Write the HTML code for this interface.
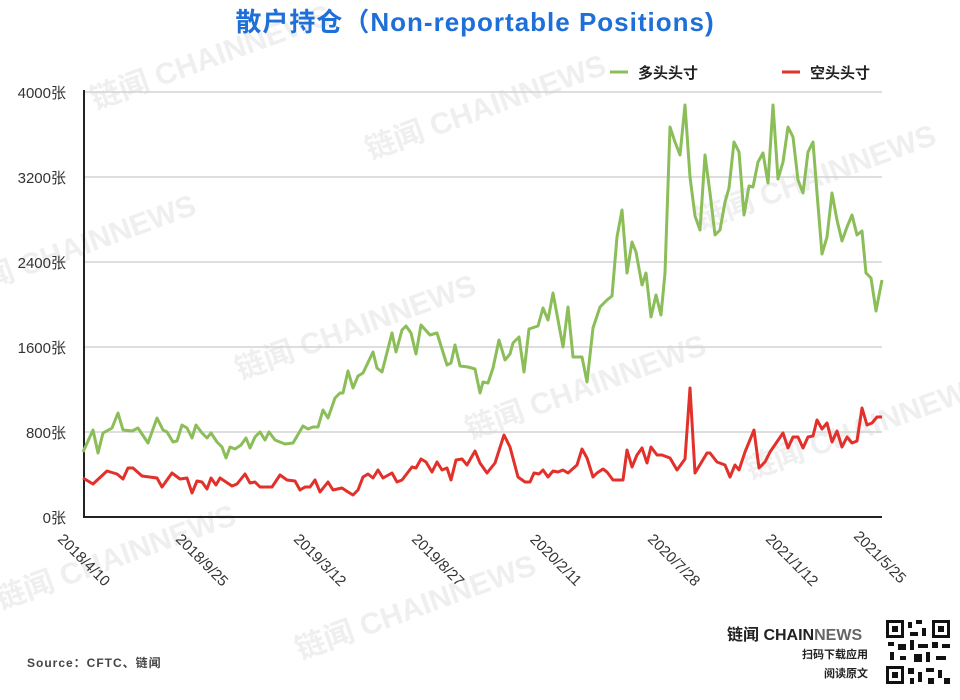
<!DOCTYPE html>
<html><head><meta charset="utf-8"><style>
body{margin:0;background:#fff;width:960px;height:695px;overflow:hidden;font-family:"Liberation Sans","Noto Sans CJK SC",sans-serif}
</style></head><body>
<svg width="960" height="695" xmlns="http://www.w3.org/2000/svg" font-family="Liberation Sans, Noto Sans CJK SC, sans-serif">
<g fill="#efefef" font-size="30" font-weight="bold">
<text transform="translate(95,110) rotate(-20)">链闻 CHAINNEWS</text>
<text transform="translate(370,160) rotate(-20)">链闻 CHAINNEWS</text>
<text transform="translate(-40,300) rotate(-20)">链闻 CHAINNEWS</text>
<text transform="translate(240,380) rotate(-20)">链闻 CHAINNEWS</text>
<text transform="translate(470,440) rotate(-20)">链闻 CHAINNEWS</text>
<text transform="translate(700,230) rotate(-20)">链闻 CHAINNEWS</text>
<text transform="translate(750,480) rotate(-20)">链闻 CHAINNEWS</text>
<text transform="translate(0,610) rotate(-20)">链闻 CHAINNEWS</text>
<text transform="translate(300,660) rotate(-20)">链闻 CHAINNEWS</text>
</g>
<text x="475" y="31" text-anchor="middle" font-size="26" font-weight="bold" fill="#1f6fd8" letter-spacing="1">散户持仓（Non-reportable Positions)</text>
<g stroke="#d4d4d4" stroke-width="1.5">
<line x1="84" y1="92" x2="882" y2="92"/><line x1="84" y1="177" x2="882" y2="177"/><line x1="84" y1="262" x2="882" y2="262"/><line x1="84" y1="347" x2="882" y2="347"/><line x1="84" y1="432" x2="882" y2="432"/>
</g>
<line x1="84" y1="90" x2="84" y2="518" stroke="#222" stroke-width="2"/>
<line x1="83" y1="517" x2="882" y2="517" stroke="#222" stroke-width="2"/>
<g font-size="15" fill="#333" text-anchor="end">
<text x="66" y="98">4000张</text><text x="66" y="183">3200张</text><text x="66" y="268">2400张</text><text x="66" y="353">1600张</text><text x="66" y="438">800张</text><text x="66" y="523">0张</text>
</g>
<g font-size="15" fill="#333" text-anchor="middle">
<text transform="translate(84,560) rotate(45)" dy="5">2018/4/10</text>
<text transform="translate(202,560) rotate(45)" dy="5">2018/9/25</text>
<text transform="translate(320,560) rotate(45)" dy="5">2019/3/12</text>
<text transform="translate(438,560) rotate(45)" dy="5">2019/8/27</text>
<text transform="translate(556,560) rotate(45)" dy="5">2020/2/11</text>
<text transform="translate(674,560) rotate(45)" dy="5">2020/7/28</text>
<text transform="translate(792,560) rotate(45)" dy="5">2021/1/12</text>
<text transform="translate(880,557) rotate(45)" dy="5">2021/5/25</text>
</g>
<polyline fill="none" stroke="#8bbd58" stroke-width="3" stroke-linejoin="round" points="83,452 93,430 98,453 103,433 112,428 118,413 123,430 132,431 138,428 148,443 157,418 163,430 167,432 173,442 177,441 182,425 187,428 192,438 196,425 202,433 207,438 211,433 217,442 222,447 226,458 230,447 235,449 241,445 246,438 250,448 255,437 260,432 265,440 269,432 275,440 285,444 293,443 303,426 308,429 313,427 318,427 323,410 328,418 335,398 340,393 343,393 348,371 353,388 358,376 363,373 373,352 377,368 382,372 392,333 396,352 402,330 406,326 411,333 416,354 421,325 430,335 437,333 447,365 451,363 455,345 460,366 468,367 475,369 480,393 483,382 488,383 493,368 499,340 505,360 510,354 513,343 519,337 524,372 529,329 538,326 543,308 548,320 553,293 563,347 568,307 573,357 582,357 587,382 593,328 600,307 607,300 612,296 617,237 622,210 627,273 632,242 636,252 642,285 646,273 651,317 656,295 661,315 665,273 670,127 675,142 680,155 685,105 690,177 695,216 700,230 705,155 710,193 715,235 720,230 725,202 729,188 734,142 739,152 744,215 749,186 753,187 758,162 763,153 768,183 773,105 778,179 783,162 788,127 793,137 798,180 803,193 808,152 813,142 817,193 822,254 827,237 832,193 837,220 842,241 847,227 852,215 857,235 862,231 866,273 871,278 876,311 882,280"/>
<polyline fill="none" stroke="#e2302a" stroke-width="3" stroke-linejoin="round" points="83,478 93,484 107,471 117,474 123,479 128,468 133,468 142,476 157,478 162,487 172,473 180,479 187,478 192,493 197,481 202,482 207,489 211,478 216,485 220,478 232,486 237,484 245,474 250,483 255,482 260,487 272,487 280,475 287,480 295,481 300,490 305,487 310,487 315,480 320,492 328,482 333,490 342,488 348,492 353,495 358,490 363,477 368,474 373,478 378,470 383,478 392,473 397,482 402,480 412,467 416,468 421,459 426,462 432,472 437,462 442,470 447,468 451,480 456,460 462,459 467,465 475,451 480,463 487,473 495,463 504,435 510,447 518,477 525,482 530,482 534,473 539,474 543,470 548,477 553,471 558,472 563,470 568,473 577,465 582,449 587,458 593,477 597,473 603,469 607,472 613,480 623,480 627,450 632,467 637,455 642,448 647,463 651,447 657,455 662,455 670,458 677,470 685,459 690,388 695,473 707,453 710,453 717,462 725,465 730,477 735,465 739,470 745,452 754,430 759,468 765,462 770,452 783,433 788,448 793,437 798,437 803,448 808,437 813,436 817,420 822,429 827,423 832,442 837,431 842,447 847,437 852,443 857,441 862,408 867,425 872,423 877,417 882,417"/>
<line x1="610" y1="72" x2="628" y2="72" stroke="#8bbd58" stroke-width="3"/>
<text x="638" y="78" font-size="15" font-weight="bold" fill="#222">多头头寸</text>
<line x1="782" y1="72" x2="800" y2="72" stroke="#e2302a" stroke-width="3"/>
<text x="810" y="78" font-size="15" font-weight="bold" fill="#222">空头头寸</text>
<text x="27" y="667" font-size="12" font-weight="bold" fill="#444" letter-spacing="1">Source：CFTC、链闻</text>
<text x="727" y="640" font-size="16" font-weight="bold" fill="#222">链闻 CHAIN<tspan fill="#666">NEWS</tspan></text>
<text x="868" y="658" font-size="11" font-weight="bold" fill="#222" text-anchor="end">扫码下载应用</text>
<text x="868" y="677" font-size="11" font-weight="bold" fill="#222" text-anchor="end">阅读原文</text>
<rect x="886" y="620" width="64" height="64" fill="#fff"/>
<g fill="#111">
<rect x="886" y="620" width="18" height="18"/><rect x="889" y="623" width="12" height="12" fill="#fff"/><rect x="892" y="626" width="6" height="6"/>
<rect x="932" y="620" width="18" height="18"/><rect x="935" y="623" width="12" height="12" fill="#fff"/><rect x="938" y="626" width="6" height="6"/>
<rect x="886" y="666" width="18" height="18"/><rect x="889" y="669" width="12" height="12" fill="#fff"/><rect x="892" y="672" width="6" height="6"/>
<rect x="908" y="622" width="4" height="6"/><rect x="916" y="620" width="6" height="4"/><rect x="910" y="632" width="8" height="4"/><rect x="922" y="628" width="4" height="8"/>
<rect x="888" y="642" width="6" height="4"/><rect x="898" y="644" width="8" height="6"/><rect x="910" y="640" width="4" height="10"/><rect x="918" y="644" width="10" height="4"/><rect x="932" y="642" width="6" height="6"/><rect x="942" y="644" width="8" height="4"/>
<rect x="890" y="652" width="4" height="8"/><rect x="900" y="656" width="6" height="4"/><rect x="914" y="654" width="8" height="8"/><rect x="926" y="652" width="4" height="10"/><rect x="936" y="656" width="10" height="4"/>
<rect x="908" y="668" width="6" height="6"/><rect x="918" y="672" width="4" height="10"/><rect x="926" y="668" width="8" height="4"/><rect x="938" y="670" width="4" height="8"/><rect x="944" y="678" width="6" height="6"/><rect x="928" y="678" width="6" height="6"/><rect x="910" y="678" width="4" height="6"/>
</g>
</svg>
</body></html>
